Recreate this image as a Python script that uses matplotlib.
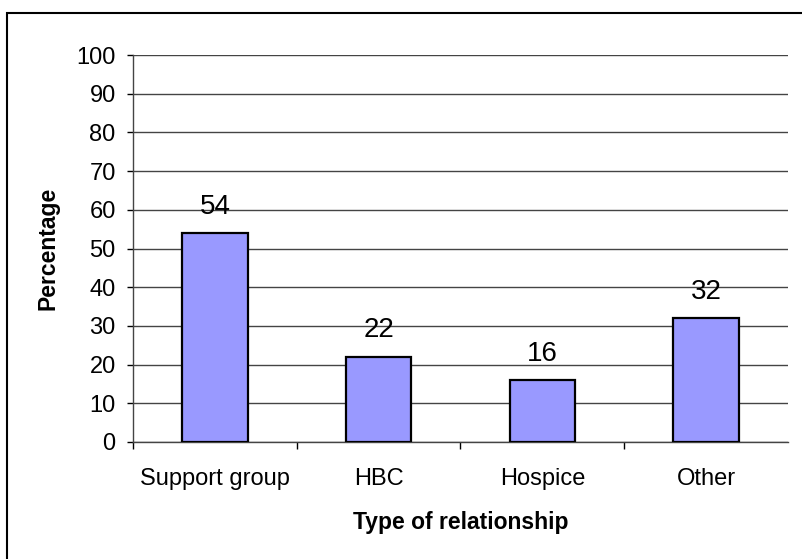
import matplotlib

matplotlib.use("Agg")
import matplotlib.pyplot as plt
from matplotlib.patches import Rectangle

categories = ["Support group", "HBC", "Hospice", "Other"]
percentages = [54, 22, 16, 32]
y_ticks = list(range(0, 101, 10))

plt.rcParams["font.family"] = ["Liberation Sans", "DejaVu Sans"]

W, H = 803, 559
fig = plt.figure(figsize=(W / 100, H / 100), dpi=100)
# plot area in pixel coordinates
left, right, top, bottom = 133, 788, 55, 442
ax = fig.add_axes([left / W, 1 - bottom / H, (right - left) / W, (bottom - top) / H])

x = list(range(len(categories)))
bars = ax.bar(x, percentages, width=0.4, color="#9999ff", edgecolor="black", linewidth=1.6, zorder=3)
for xi, v in zip(x, percentages):
    ax.annotate(str(v), (xi, v), xytext=(0, 14), textcoords="offset points",
                ha="center", va="baseline", fontsize=20)

ax.set_xlim(-0.5, len(categories) - 0.5)
ax.set_ylim(0, 100)
ax.set_yticks(y_ticks)
ax.tick_params(axis="y", labelsize=17, length=4.5, width=1, direction="out", pad=8)
ax.yaxis.grid(True, color="#444444", linewidth=1, zorder=0)
ax.set_xticks([i + 0.5 for i in x[:-1]] + [-0.5], minor=False)
ax.set_xticklabels([])
ax.set_xticks(x, minor=True)
ax.set_xticklabels(categories, minor=True)
ax.tick_params(axis="x", which="major", length=5, width=1, direction="out")
ax.tick_params(axis="x", which="minor", length=0, labelsize=17, pad=19)

for side in ("top", "right"):
    ax.spines[side].set_visible(False)
for side in ("left", "bottom"):
    ax.spines[side].set_color("#444444")
    ax.spines[side].set_linewidth(1)

ax.set_ylabel("Percentage", fontsize=16.5, fontweight="bold", labelpad=12)
ax.set_xlabel("Type of relationship", fontsize=16.5, fontweight="bold", labelpad=15)

# outer chart border
fig.patches.append(Rectangle((7 / W, -0.01), 1.02, 1 - 13 / H + 0.01, transform=fig.transFigure,
                             fill=False, edgecolor="black", linewidth=1.5))

fig.savefig("out.png", dpi=100)
